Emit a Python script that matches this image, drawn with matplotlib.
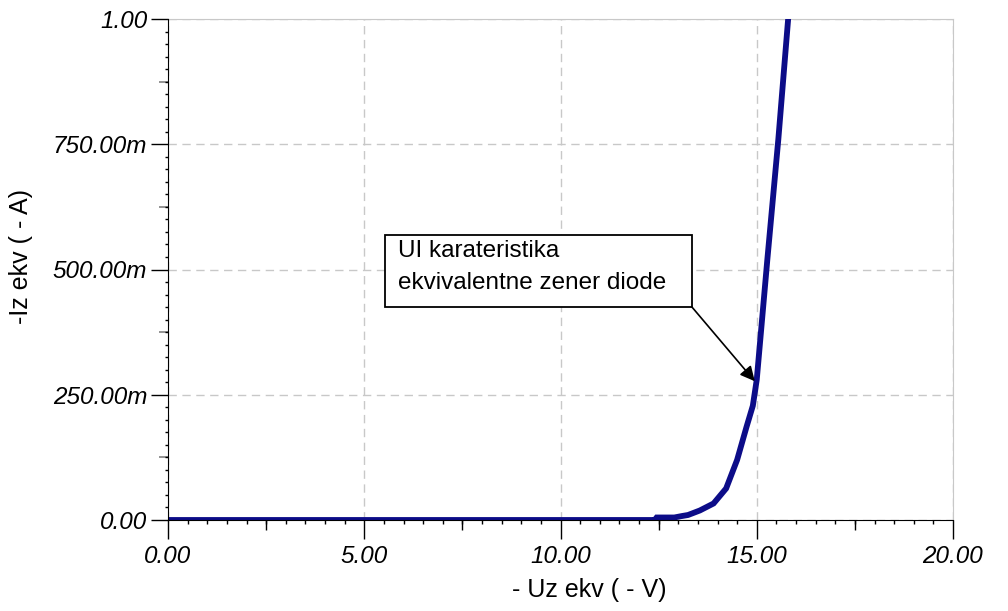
import matplotlib
matplotlib.use("Agg")
import matplotlib.pyplot as plt
from matplotlib.patches import Rectangle
from matplotlib.ticker import MultipleLocator, FixedLocator

plt.rcParams['font.family'] = ['Liberation Sans', 'DejaVu Sans']

# zener diode equivalent I-V curve
uz = [0.0, 12.40, 12.45, 12.90, 13.10, 13.25, 13.55, 13.90, 14.22, 14.50,
      14.74, 14.90, 15.00, 15.27, 15.55, 15.80]
iz = [0.0, 0.0, 0.005, 0.005, 0.008, 0.010, 0.019, 0.033, 0.063, 0.120,
      0.186, 0.228, 0.280, 0.520, 0.760, 1.000]

x_ticks = [0, 5, 10, 15, 20]
x_labels = ['0.00', '5.00', '10.00', '15.00', '20.00']
y_ticks = [0, 0.25, 0.5, 0.75, 1.0]
y_labels = ['0.00', '250.00m', '500.00m', '750.00m', '1.00']

note = "UI karateristika\nekvivalentne zener diode"

fig = plt.figure(figsize=(10.08, 6.11), dpi=100)
ax = fig.add_axes([168 / 1008, 1 - 520 / 611, 785 / 1008, 501 / 611])

ax.plot(uz, iz, color='#0c0c88', lw=4.2, solid_joinstyle='miter', zorder=3)

ax.set_xlim(0, 20)
ax.set_ylim(0, 1)

ax.set_xticks(x_ticks)
ax.set_xticklabels(x_labels, fontstyle='italic', fontsize=17.5)
ax.set_yticks(y_ticks)
ax.set_yticklabels(y_labels, fontstyle='italic', fontsize=17.5)
ax.xaxis.set_minor_locator(MultipleLocator(0.5))
ax.yaxis.set_minor_locator(MultipleLocator(0.025))
ax.tick_params(axis='x', which='major', length=14, width=1, pad=4, direction='out')
ax.tick_params(axis='x', which='minor', length=3.2, width=1, direction='out')
ax.tick_params(axis='y', which='major', length=12, width=1, pad=3, direction='out')
ax.tick_params(axis='y', which='minor', length=2.2, width=1, direction='out')

# intermediate ticks (every 2.5 V / 125 mA)
secx = ax.secondary_xaxis('bottom')
secx.xaxis.set_major_locator(FixedLocator([2.5, 7.5, 12.5, 17.5]))
secx.tick_params(length=7, width=1, labelbottom=False)
secx.spines['bottom'].set_visible(False)
secy = ax.secondary_yaxis('left')
secy.yaxis.set_major_locator(FixedLocator([0.125, 0.375, 0.625, 0.875]))
secy.tick_params(length=6.5, width=1.2, color='#808080', labelleft=False)
secy.spines['left'].set_visible(False)

ax.grid(True, which='major', color='#c8c8c8', ls=(0, (6, 4)), lw=1)
for side in ['top', 'right']:
    ax.spines[side].set_color('#c8c8c8')
for side in ['left', 'bottom']:
    ax.spines[side].set_color('black')
    ax.spines[side].set_zorder(4)

fig.text(589 / 1008, 1 - 590 / 611, '- Uz ekv ( - V)', fontsize=18,
         ha='center', va='center')
fig.text(21 / 1008, 1 - 257 / 611, '-Iz ekv ( - A)', fontsize=18,
         ha='center', va='center', rotation=90)

# annotation box with arrow
ax.add_patch(Rectangle((5.53, 0.425), 7.82, 0.144, facecolor='white',
                       edgecolor='black', lw=1.3, zorder=5))
ax.text(5.85, 0.559, note, fontsize=17.5, ha='left', va='top',
        linespacing=1.62, zorder=6)
ax.annotate('', xy=(14.95, 0.277), xytext=(13.35, 0.425),
            arrowprops=dict(arrowstyle='-|>', color='black', lw=1.2,
                            mutation_scale=22, shrinkA=0, shrinkB=0),
            zorder=6)

fig.savefig('out.png', dpi=100)
